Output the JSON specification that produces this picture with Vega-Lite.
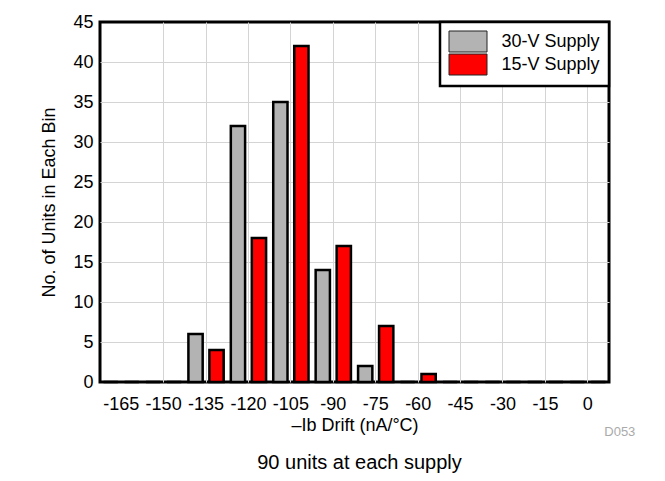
{
  "$schema": "https://vega.github.io/schema/vega-lite/v6.json",
  "width": 509,
  "height": 360,
  "autosize": {"type": "none"},
  "padding": {"left": 100, "top": 22, "right": 56, "bottom": 99},
  "background": "white",
  "config": {
    "font": "Liberation Sans",
    "view": {"stroke": "black", "strokeWidth": 3},
    "legend": {"strokeWidth": 2.5, "strokeColor": "black", "fillColor": "white"},
    "axis": {
      "labelFont": "Liberation Sans",
      "titleFont": "Liberation Sans",
      "labelColor": "black",
      "titleColor": "black",
      "labelFontSize": 18,
      "titleFontSize": 18,
      "titleFontWeight": "normal",
      "gridColor": "#d4d4d4",
      "gridWidth": 1,
      "ticks": false,
      "tickSize": 0,
      "domain": false
    }
  },
  "title": {
    "text": "90 units at each supply",
    "orient": "bottom",
    "anchor": "middle",
    "frame": "group",
    "fontSize": 20,
    "fontWeight": "normal",
    "font": "Liberation Sans",
    "color": "black",
    "offset": 14,
    "dx": 5
  },
  "data": {
    "values": [
      {"drift": "-165", "supply": "30-V Supply", "count": 0},
      {"drift": "-165", "supply": "15-V Supply", "count": 0},
      {"drift": "-150", "supply": "30-V Supply", "count": 0},
      {"drift": "-150", "supply": "15-V Supply", "count": 0},
      {"drift": "-135", "supply": "30-V Supply", "count": 6},
      {"drift": "-135", "supply": "15-V Supply", "count": 4},
      {"drift": "-120", "supply": "30-V Supply", "count": 32},
      {"drift": "-120", "supply": "15-V Supply", "count": 18},
      {"drift": "-105", "supply": "30-V Supply", "count": 35},
      {"drift": "-105", "supply": "15-V Supply", "count": 42},
      {"drift": "-90", "supply": "30-V Supply", "count": 14},
      {"drift": "-90", "supply": "15-V Supply", "count": 17},
      {"drift": "-75", "supply": "30-V Supply", "count": 2},
      {"drift": "-75", "supply": "15-V Supply", "count": 7},
      {"drift": "-60", "supply": "30-V Supply", "count": 0},
      {"drift": "-60", "supply": "15-V Supply", "count": 1},
      {"drift": "-45", "supply": "30-V Supply", "count": 0},
      {"drift": "-45", "supply": "15-V Supply", "count": 0},
      {"drift": "-30", "supply": "30-V Supply", "count": 0},
      {"drift": "-30", "supply": "15-V Supply", "count": 0},
      {"drift": "-15", "supply": "30-V Supply", "count": 0},
      {"drift": "-15", "supply": "15-V Supply", "count": 0},
      {"drift": "0", "supply": "30-V Supply", "count": 0},
      {"drift": "0", "supply": "15-V Supply", "count": 0}
    ]
  },
  "layer": [
    {
      "mark": {"type": "bar", "stroke": "black", "strokeWidth": 2.5},
      "encoding": {
        "x": {
          "field": "drift",
          "type": "ordinal",
          "scale": {
            "domain": ["-165", "-150", "-135", "-120", "-105", "-90", "-75", "-60", "-45", "-30", "-15", "0"],
            "paddingInner": 0,
            "paddingOuter": 0
          },
          "axis": {
            "title": "–Ib Drift (nA/°C)",
            "labelAngle": 0,
            "labelPadding": 13,
            "titlePadding": 3,
            "grid": true,
            "gridOpacity": {"condition": {"test": "datum.value === '-165'", "value": 0}, "value": 1}
          }
        },
        "xOffset": {
          "field": "supply",
          "type": "nominal",
          "scale": {"domain": ["30-V Supply", "15-V Supply"], "paddingInner": 0.32, "paddingOuter": 0.17}
        },
        "y": {
          "field": "count",
          "type": "quantitative",
          "scale": {"domain": [0, 45], "nice": false},
          "axis": {
            "title": "No. of Units in Each Bin",
            "values": [0, 5, 10, 15, 20, 25, 30, 35, 40, 45],
            "labelOverlap": false,
            "labelPadding": 7,
            "titlePadding": 14,
            "grid": true,
            "gridOpacity": {"condition": {"test": "datum.value === 0 || datum.value === 45", "value": 0}, "value": 1}
          }
        },
        "color": {
          "field": "supply",
          "type": "nominal",
          "scale": {"domain": ["30-V Supply", "15-V Supply"], "range": ["#b3b3b3", "#ff0000"]},
          "legend": {
            "title": null,
            "orient": "top-right",
            "offset": 0,
            "padding": 9,
            "symbolType": "M-1.9,-1.05H1.9V1.05H-1.9Z",
            "symbolSize": 400,
            "symbolStrokeColor": "#222222",
            "symbolStrokeWidth": 1,
            "symbolOpacity": 1,
            "symbolOffset": 8.5,
            "labelOffset": 23,
            "labelFontSize": 18,
            "labelFont": "Liberation Sans",
            "labelColor": "black",
            "rowPadding": -4
          }
        }
      }
    },
    {
      "data": {"values": [{"label": "D053"}]},
      "mark": {"type": "text", "dx": 32, "color": "#aaaaaa", "fontSize": 13, "baseline": "middle", "font": "Liberation Sans"},
      "encoding": {
        "x": {"datum": "0"},
        "y": {
          "datum": -6.3,
          "axis": {
            "title": "No. of Units in Each Bin",
            "values": [0, 5, 10, 15, 20, 25, 30, 35, 40, 45],
            "labelOverlap": false,
            "labelPadding": 7,
            "titlePadding": 14,
            "grid": true,
            "gridOpacity": {"condition": {"test": "datum.value === 0 || datum.value === 45", "value": 0}, "value": 1}
          }
        },
        "text": {"field": "label"}
      }
    }
  ]
}
